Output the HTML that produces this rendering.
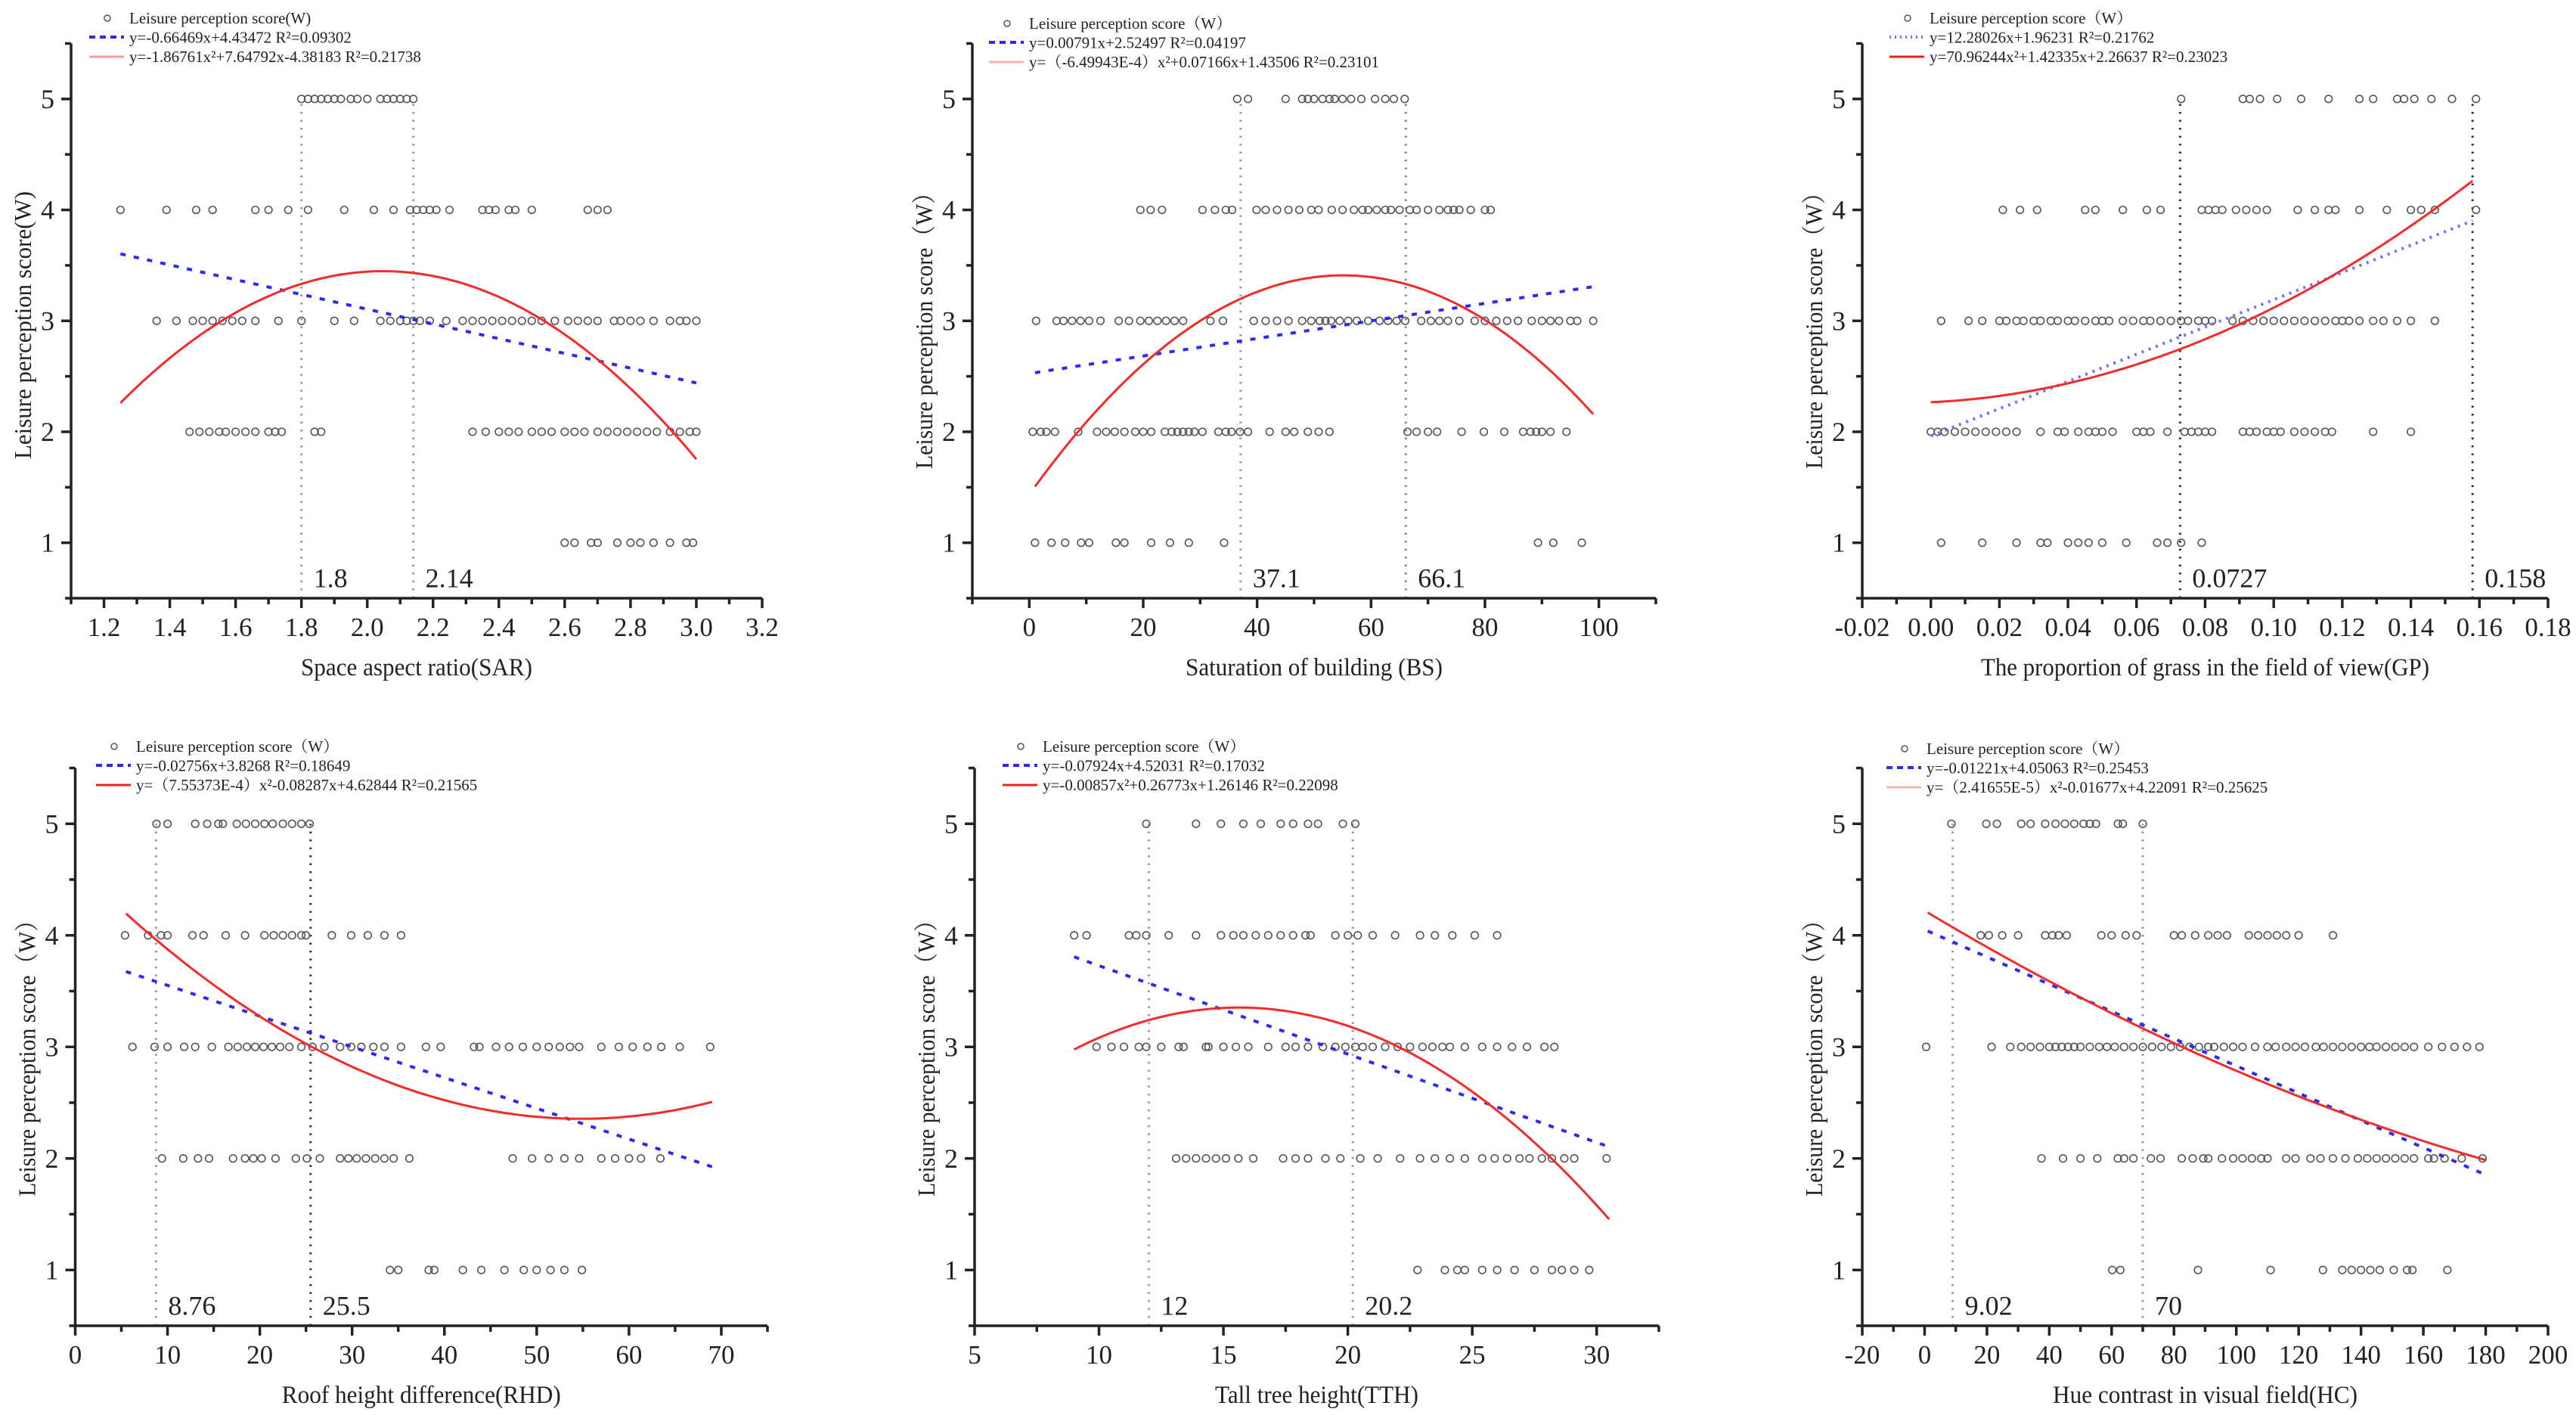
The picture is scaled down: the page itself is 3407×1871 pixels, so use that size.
<!DOCTYPE html>
<html>
<head>
<meta charset="utf-8">
<style>
html,body{margin:0;padding:0;background:#fff;}
svg{display:block;}
text{font-family:"Liberation Serif","Noto Serif CJK SC","Noto Sans CJK SC",serif;fill:#222;}
</style>
</head>
<body>
<svg id="chart" width="3407" height="1871" viewBox="0 0 3407 1871" xmlns="http://www.w3.org/2000/svg"></svg>
<script>
// ---------- Panel 1: Space aspect ratio (SAR) ----------
const sarScore5 = [1.80,1.82,1.84,1.86,1.88,1.90,1.92,1.95,1.97,2.00,2.04,2.06,2.08,2.10,2.12,2.14];
const sarScore4 = [1.25,1.39,1.48,1.53,1.66,1.70,1.76,1.82,1.93,2.02,2.08,2.13,2.15,2.17,2.19,2.21,2.25,2.35,2.37,2.39,2.43,2.45,2.50,2.67,2.70,2.73];
const sarScore3 = [1.36,1.42,1.47,1.50,1.53,1.56,1.59,1.62,1.66,1.73,1.80,1.90,1.96,2.04,2.07,2.10,2.12,2.14,2.16,2.19,2.24,2.29,2.32,2.35,2.38,2.41,2.44,2.47,2.50,2.53,2.57,2.61,2.64,2.67,2.70,2.75,2.77,2.80,2.83,2.87,2.92,2.95,2.97,3.00];
const sarScore2 = [1.46,1.49,1.52,1.55,1.57,1.60,1.63,1.66,1.70,1.72,1.74,1.84,1.86,2.32,2.36,2.40,2.43,2.46,2.50,2.53,2.56,2.60,2.63,2.66,2.70,2.73,2.76,2.79,2.82,2.85,2.88,2.92,2.95,2.98,3.00];
const sarScore1 = [2.60,2.63,2.68,2.70,2.76,2.80,2.83,2.87,2.92,2.97,2.99];
const sarLinear = [-0.66469, 4.43472];
const sarQuad = [-1.86761, 7.64792, -4.38183];
const sarFitRange = [1.25, 3.0];
const sarRefs = [1.8, 2.14];
const sarRefLabels = ["1.8", "2.14"];
const sarTicks = [1.2,1.4,1.6,1.8,2.0,2.2,2.4,2.6,2.8,3.0,3.2];
const sarTickLabels = ["1.2","1.4","1.6","1.8","2.0","2.2","2.4","2.6","2.8","3.0","3.2"];

// ---------- Panel 2: Saturation of building (BS) ----------
const bsScore5 = [36.5,38.4,45,47.9,48.9,50,51.5,52.7,53.6,55,56.5,58.3,60.7,62.5,64,65.9];
const bsScore4 = [19.5,21.3,23.3,30.4,32.6,34.5,35.6,39.9,41.5,43.5,45.5,47.4,49.5,50.8,53.1,55,57,58.5,59.5,61,62.5,63.5,65,66.8,68,70,72,73.5,74.5,75.5,77.5,80,81];
const bsScore3 = [1.2,4.8,6,7.5,9,10.5,12.5,15.7,17.5,19.5,21,22.5,24,25.5,27,31.8,34,39.4,41.5,43.5,45.5,47.9,49.5,51,52,53,54.5,56,57.5,59.5,61.5,63,64.5,66,68.8,70.5,72,73.5,75.5,78.2,80,82,83.9,85.8,88.2,90,91.5,93,95,96.2,99];
const bsScore2 = [0.6,2,3,4.5,8.6,11.9,13.5,15,16.7,18.6,20,21.4,23.8,25,26,27,28,29,30.4,33.2,34.5,35.5,37,38.4,42.2,45,46.5,48.9,50.8,52.7,66.4,68,70,71.6,75.9,79.8,83.4,86.7,88,89,90,91.5,94.3];
const bsScore1 = [1,3.9,6.3,9.1,10.5,15.2,16.7,21.4,24.7,28,34.2,89.3,92,97];
const bsLinear = [0.00791, 2.52497];
const bsQuad = [-6.49943e-4, 0.07166, 1.43506];
const bsFitRange = [1, 99];
const bsRefs = [37.1, 66.1];
const bsRefLabels = ["37.1", "66.1"];
const bsTicks = [0,20,40,60,80,100];
const bsTickLabels = ["0","20","40","60","80","100"];

// ---------- Panel 3: Grass proportion (GP) ----------
const gpScore5 = [0.073,0.091,0.093,0.096,0.101,0.108,0.116,0.125,0.129,0.136,0.138,0.141,0.146,0.152,0.159];
const gpScore4 = [0.021,0.026,0.031,0.045,0.048,0.056,0.063,0.067,0.079,0.081,0.083,0.085,0.089,0.092,0.095,0.098,0.107,0.112,0.116,0.118,0.125,0.133,0.140,0.143,0.147,0.159];
const gpScore3 = [0.003,0.011,0.015,0.020,0.022,0.025,0.027,0.030,0.032,0.035,0.037,0.040,0.042,0.045,0.048,0.050,0.052,0.056,0.059,0.062,0.064,0.067,0.070,0.073,0.075,0.078,0.080,0.082,0.088,0.091,0.094,0.097,0.100,0.103,0.106,0.109,0.112,0.115,0.118,0.120,0.122,0.125,0.129,0.132,0.136,0.140,0.147];
const gpScore2 = [0.000,0.002,0.004,0.007,0.010,0.013,0.016,0.019,0.022,0.025,0.032,0.037,0.039,0.043,0.046,0.048,0.050,0.053,0.060,0.062,0.064,0.069,0.074,0.076,0.078,0.080,0.082,0.091,0.093,0.095,0.098,0.100,0.102,0.106,0.109,0.112,0.115,0.117,0.129,0.140];
const gpScore1 = [0.003,0.015,0.025,0.032,0.034,0.040,0.043,0.046,0.050,0.057,0.066,0.069,0.073,0.079];
const gpLinear = [12.28026, 1.96231];
const gpQuad = [70.96244, 1.42335, 2.26637];
const gpFitRange = [0.0, 0.158];
const gpRefs = [0.0727, 0.158];
const gpRefLabels = ["0.0727", "0.158"];
const gpTicks = [-0.02,0.00,0.02,0.04,0.06,0.08,0.10,0.12,0.14,0.16,0.18];
const gpTickLabels = ["-0.02","0.00","0.02","0.04","0.06","0.08","0.10","0.12","0.14","0.16","0.18"];

// ---------- Panel 4: Roof height difference (RHD) ----------
const rhdScore5 = [8.8,10,13,14.3,15.5,16,17.5,18.5,19.5,20.5,21.4,22.5,23.5,24.5,25.4];
const rhdScore4 = [5.4,7.9,9.3,10,12.7,13.9,16.3,18.4,20.5,21.5,22.5,23.5,24.5,25,27.8,29.9,31.7,33.5,35.3];
const rhdScore3 = [6.2,8.6,10,11.8,13,14.8,16.6,17.6,18.6,19.5,20.4,21.3,22.2,23.2,24.5,25.7,27,28.7,29.9,31,32.3,33.5,35.3,38,39.6,43.2,43.8,45.6,47,48.5,50,51.3,52.5,53.6,54.6,57,58.9,60.4,62,63.5,65.5,68.8];
const rhdScore2 = [9.4,11.7,13.3,14.5,17.1,18.4,19.3,20.2,21.7,23.9,25.1,26.5,28.7,29.6,30.5,31.5,32.5,33.5,34.5,36.2,47.4,49.5,51.3,53,54.6,57,58.5,60,61.3,63.4];
const rhdScore1 = [34.1,35,38.3,38.9,42,44,46.5,48.6,50,51.5,53,54.9];
const rhdLinear = [-0.02756, 3.8268];
const rhdQuad = [7.55373e-4, -0.08287, 4.62844];
const rhdFitRange = [5.5, 69];
const rhdRefs = [8.76, 25.5];
const rhdRefLabels = ["8.76", "25.5"];
const rhdTicks = [0,10,20,30,40,50,60,70];
const rhdTickLabels = ["0","10","20","30","40","50","60","70"];

// ---------- Panel 5: Tall tree height (TTH) ----------
const tthScore5 = [11.9,13.9,14.9,15.8,16.5,17.3,17.8,18.4,18.8,19.8,20.3];
const tthScore4 = [9,9.5,11.2,11.5,11.9,12.8,13.9,14.9,15.4,15.8,16.3,16.8,17.3,17.8,18.3,18.5,19.5,20,20.4,21,21.9,22.9,23.5,24.2,25.1,26];
const tthScore3 = [9.9,10.5,11,11.6,11.9,12.5,13.2,13.4,14.3,14.4,15,15.5,16,16.8,17.5,17.9,18.4,19,19.5,19.9,20.3,20.6,21,21.5,22,22.5,23,23.4,23.8,24.1,24.7,25.4,26,26.6,27.2,27.9,28.3];
const tthScore2 = [13.1,13.5,13.9,14.3,14.7,15.1,15.6,16.2,17.4,17.9,18.4,19.1,19.7,20.5,21.2,22.1,22.9,23.5,24.1,24.7,25.4,25.9,26.4,26.9,27.3,27.8,28.2,28.7,29.1,30.4];
const tthScore1 = [22.8,23.9,24.4,24.7,25.4,26,26.7,27.5,28.2,28.6,29.1,29.7];
const tthLinear = [-0.07924, 4.52031];
const tthQuad = [-0.00857, 0.26773, 1.26146];
const tthFitRange = [9, 30.5];
const tthRefs = [12, 20.2];
const tthRefLabels = ["12", "20.2"];
const tthTicks = [5,10,15,20,25,30];
const tthTickLabels = ["5","10","15","20","25","30"];

// ---------- Panel 6: Hue contrast (HC) ----------
const hcScore5 = [8.6,19.8,23.2,31,34,38.7,42,45,48,51,53,55,62,63.6,70];
const hcScore4 = [18,20.6,24.9,30,38.7,41,43,45.6,56.7,60,64.5,68,80,82.5,86.8,91,94,97,104,107,110,113,116,120,131];
const hcScore3 = [0.5,21.5,27.5,31,34,37,40,42,44,46,48,50,53,56,58.5,61,64,67,70,73,76,79,82,85,88,91,92.9,96,99,102,106,110,112.6,116,119,122,125.5,128,131,134,137,140,142.7,145,148,151,154,157,161.6,166,170,174,178];
const hcScore2 = [37.5,44.4,50,55.4,62,64,67,72.6,75.7,82.5,86,89.4,91,95.4,99,102,105,108,110,116,119,123.8,127,131,135,139,142,145,148,151,154,157,161.6,163.4,166.8,172.3,179];
const hcScore1 = [60.2,62.8,87.7,111,127.8,134,137,140,143,146,150.5,154.8,156.5,167.7];
const hcLinear = [-0.01221, 4.05063];
const hcQuad = [2.41655e-5, -0.01677, 4.22091];
const hcFitRange = [1, 180];
const hcRefs = [9.02, 70];
const hcRefLabels = ["9.02", "70"];
const hcTicks = [-20,0,20,40,60,80,100,120,140,160,180,200];
const hcTickLabels = ["-20","0","20","40","60","80","100","120","140","160","180","200"];

const yTicks = [1,2,3,4,5];
const yTickLabels = ["1","2","3","4","5"];

const NS = "http://www.w3.org/2000/svg";
const svg = document.getElementById("chart");
function mk(tag, attrs, parent) {
  const e = document.createElementNS(NS, tag);
  for (const k in attrs) e.setAttribute(k, attrs[k]);
  (parent || svg).appendChild(e);
  return e;
}

const panels = [
  {id:"sar", xMin:1.1, xMax:3.2, pxL:94, pxR:1008, base:791, unit:146.7, minorStep:0.1,
   scores:[sarScore1,sarScore2,sarScore3,sarScore4,sarScore5], lin:sarLinear, quad:sarQuad, range:sarFitRange,
   refs:sarRefs, refLabels:sarRefLabels, refColors:["#9a9a9a","#9a9a9a"], ticks:sarTicks, tickLabels:sarTickLabels,
   xTitle:"Space aspect ratio(SAR)", xTitleW:306, yTitle:"Leisure perception score(W)", yTitleW:354,
   legend0:"Leisure perception score(W)", legend1:"y=-0.66469x+4.43472  R²=0.09302", legend2:"y=-1.86761x²+7.64792x-4.38183  R²=0.21738",
   legX:118, legY:24, linStyle:"dash", quadColor:"#ff9a9a"},
  {id:"bs", xMin:-10, xMax:110, pxL:1286, pxR:2190, base:791, unit:146.7, minorStep:10,
   scores:[bsScore1,bsScore2,bsScore3,bsScore4,bsScore5], lin:bsLinear, quad:bsQuad, range:bsFitRange,
   refs:bsRefs, refLabels:bsRefLabels, refColors:["#9a9a9a","#8a8a8a"], ticks:bsTicks, tickLabels:bsTickLabels,
   xTitle:"Saturation of building (BS)", xTitleW:340, yTitle:"Leisure perception score（W）", yTitleW:380,
   legend0:"Leisure perception score（W）", legend1:"y=0.00791x+2.52497  R²=0.04197", legend2:"y=（-6.49943E-4）x²+0.07166x+1.43506  R²=0.23101",
   legX:1308, legY:31, linStyle:"dash", quadColor:"#ffb0b0"},
  {id:"gp", xMin:-0.02, xMax:0.18, pxL:2463, pxR:3370, base:791, unit:146.7, minorStep:0.01,
   scores:[gpScore1,gpScore2,gpScore3,gpScore4,gpScore5], lin:gpLinear, quad:gpQuad, range:gpFitRange,
   refs:gpRefs, refLabels:gpRefLabels, refColors:["#333","#333"], ticks:gpTicks, tickLabels:gpTickLabels,
   xTitle:"The proportion of grass in the field of view(GP)", xTitleW:593, yTitle:"Leisure perception score（W）", yTitleW:380,
   legend0:"Leisure perception score（W）", legend1:"y=12.28026x+1.96231  R²=0.21762", legend2:"y=70.96244x²+1.42335x+2.26637  R²=0.23023",
   legX:2499, legY:24, linStyle:"dot", quadColor:"#f02020"},
  {id:"rhd", xMin:0, xMax:75, pxL:99.5, pxR:1015, base:1753, unit:147.5, minorStep:5,
   scores:[rhdScore1,rhdScore2,rhdScore3,rhdScore4,rhdScore5], lin:rhdLinear, quad:rhdQuad, range:rhdFitRange,
   refs:rhdRefs, refLabels:rhdRefLabels, refColors:["#9a9a9a","#333"], ticks:rhdTicks, tickLabels:rhdTickLabels,
   xTitle:"Roof height difference(RHD)", xTitleW:369, yTitle:"Leisure perception score（W）", yTitleW:380,
   legend0:"Leisure perception score（W）", legend1:"y=-0.02756x+3.8268  R²=0.18649", legend2:"y=（7.55373E-4）x²-0.08287x+4.62844  R²=0.21565",
   legX:127, legY:987, linStyle:"dash", quadColor:"#f02020"},
  {id:"tth", xMin:5, xMax:32.5, pxL:1289, pxR:2194, base:1753, unit:147.5, minorStep:2.5,
   scores:[tthScore1,tthScore2,tthScore3,tthScore4,tthScore5], lin:tthLinear, quad:tthQuad, range:tthFitRange,
   refs:tthRefs, refLabels:tthRefLabels, refColors:["#9a9a9a","#9a9a9a"], ticks:tthTicks, tickLabels:tthTickLabels,
   xTitle:"Tall tree height(TTH)", xTitleW:269, yTitle:"Leisure perception score（W）", yTitleW:380,
   legend0:"Leisure perception score（W）", legend1:"y=-0.07924x+4.52031  R²=0.17032", legend2:"y=-0.00857x²+0.26773x+1.26146  R²=0.22098",
   legX:1326, legY:987, linStyle:"dash", quadColor:"#f02020"},
  {id:"hc", xMin:-20, xMax:200, pxL:2463, pxR:3370, base:1753, unit:147.5, minorStep:10,
   scores:[hcScore1,hcScore2,hcScore3,hcScore4,hcScore5], lin:hcLinear, quad:hcQuad, range:hcFitRange,
   refs:hcRefs, refLabels:hcRefLabels, refColors:["#9a9a9a","#9a9a9a"], ticks:hcTicks, tickLabels:hcTickLabels,
   xTitle:"Hue contrast in visual field(HC)", xTitleW:403, yTitle:"Leisure perception score（W）", yTitleW:380,
   legend0:"Leisure perception score（W）", legend1:"y=-0.01221x+4.05063  R²=0.25453", legend2:"y=（2.41655E-5）x²-0.01677x+4.22091  R²=0.25625",
   legX:2495, legY:990, linStyle:"dash", quadColor:"#ffb0b0"}
];

panels.forEach(function(p) {
  const g = mk("g", {});
  
  
  const xs = function(v) { return p.pxL + (v - p.xMin) / (p.xMax - p.xMin) * (p.pxR - p.pxL); };
  const ys = function(v) { return p.base - (v - 0.5) * p.unit; };
  const topY = ys(5.5);

  // reference lines
  p.refs.forEach(function(r, i) {
    const l = mk("line", {x1:xs(r), x2:xs(r), y1:p.base, y2:ys(5.0), stroke:p.refColors[i], "stroke-width":3, "stroke-dasharray":"2.5,8"}, g);
    
    
    const t = mk("text", {x:xs(r) + 16, y:ys(0.68) + 12, "font-size":36}, g);
    t.textContent = p.refLabels[i];
    
    
  });

  // scatter points
  const pg = mk("g", {fill:"none", stroke:"#555", "stroke-width":1.6}, g);
  
  
  p.scores.forEach(function(arr, idx) {
    const score = idx + 1;
    arr.forEach(function(v) {
      const c = mk("circle", {cx:xs(v), cy:ys(score), r:4.8}, pg);
      
      
    });
  });

  // fitted curves
  const n = 80;
  let dq = "", dl = "";
  for (let i = 0; i <= n; i++) {
    const x = p.range[0] + (p.range[1] - p.range[0]) * i / n;
    const yq = p.quad[0] * x * x + p.quad[1] * x + p.quad[2];
    const yl = p.lin[0] * x + p.lin[1];
    dq += (i ? "L" : "M") + xs(x).toFixed(1) + "," + ys(yq).toFixed(1);
    dl += (i ? "L" : "M") + xs(x).toFixed(1) + "," + ys(yl).toFixed(1);
  }
  const linDash = p.linStyle === "dot" ? "3,7" : "7,11";
  const linCol = p.linStyle === "dot" ? "#7070ff" : "#2a2af0";
  const ll = mk("path", {d:dl, fill:"none", stroke:linCol, "stroke-width":4, "stroke-dasharray":linDash}, g);
  
  
  const ql = mk("path", {d:dq, fill:"none", stroke:"#f52a2a", "stroke-width":3}, g);
  
  

  // axes
  const ax = mk("g", {stroke:"#222", "stroke-width":3.5}, g);
  
  
  mk("line", {x1:p.pxL, x2:p.pxR, y1:p.base, y2:p.base}, ax);
  mk("line", {x1:p.pxL, x2:p.pxL, y1:p.base, y2:topY}, ax);
  // x ticks (major + minor)
  for (let v = p.xMin; v <= p.xMax + 1e-9; v += p.minorStep) {
    const isMajor = p.ticks.some(function(t){ return Math.abs(t - v) < p.minorStep * 0.01; });
    mk("line", {x1:xs(v), x2:xs(v), y1:p.base, y2:p.base + (isMajor ? 13 : 8)}, ax);
  }
  p.ticks.forEach(function(t, i) {
    const tx = mk("text", {x:xs(t), y:p.base + 50, "font-size":35, "text-anchor":"middle"}, g);
    tx.textContent = p.tickLabels[i];
    
    
  });
  // y ticks
  for (let v = 0.5; v <= 5.5001; v += 0.5) {
    const isMajor = Math.abs(v - Math.round(v)) < 0.01;
    mk("line", {x1:p.pxL, x2:p.pxL - (isMajor ? 13 : 8), y1:ys(v), y2:ys(v)}, ax);
  }
  yTicks.forEach(function(t, i) {
    const ty = mk("text", {x:p.pxL - 22, y:ys(t) + 12, "font-size":36, "text-anchor":"end"}, g);
    ty.textContent = yTickLabels[i];
    
    
  });

  // axis titles
  const xt = mk("text", {x:(p.pxL + p.pxR) / 2, y:p.base + 102, "font-size":33, "text-anchor":"middle", textLength:p.xTitleW, lengthAdjust:"spacingAndGlyphs"}, g);
  xt.textContent = p.xTitle;
  
  
  const cy = p.base - 361;
  const cx = p.pxL - 64;
  const yt = mk("text", {x:cx, y:cy + 11, "font-size":32, "text-anchor":"middle", transform:"rotate(-90 " + cx + " " + cy + ")", textLength:p.yTitleW, lengthAdjust:"spacingAndGlyphs"}, g);
  yt.textContent = p.yTitle;
  
  

  // legend
  const lg = mk("g", {}, g);
  
  
  const lx = p.legX, ly = p.legY;
  const m = mk("circle", {cx:lx + 24, cy:ly, r:4, fill:"none", stroke:"#555", "stroke-width":1.5}, lg);
  
  
  const l1 = mk("line", {x1:lx, x2:lx + 46, y1:ly + 25, y2:ly + 25, stroke:linCol, "stroke-width":4, "stroke-dasharray":p.linStyle === "dot" ? "2,5" : "8,6"}, lg);
  
  
  const l2 = mk("line", {x1:lx, x2:lx + 46, y1:ly + 51, y2:ly + 51, stroke:p.quadColor, "stroke-width":3}, lg);
  
  
  [p.legend0, p.legend1, p.legend2].forEach(function(s, i) {
    const t = mk("text", {x:lx + 53, y:ly + i * 25.5 + 7, "font-size":21}, lg);
    t.textContent = s;
    
    
  });
});
</script>
</body>
</html>
